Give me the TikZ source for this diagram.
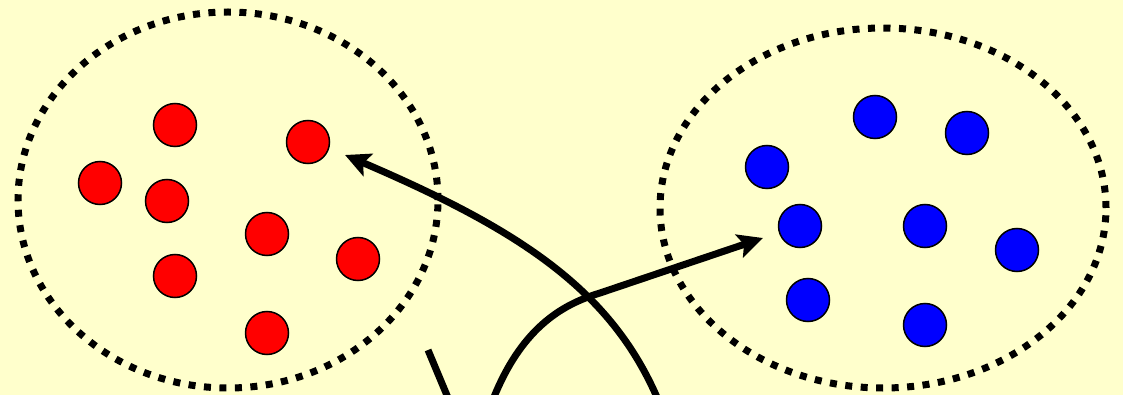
\documentclass[tikz,border=0pt]{standalone}
\usepackage{tikz}
\usetikzlibrary{arrows.meta, positioning, shapes.geometric}
\usepackage{xcolor}
\definecolor{paper}{HTML}{FFFFCC}
\definecolor{redpt}{HTML}{FF0000}
\definecolor{bluept}{HTML}{0000FF}

\begin{document}
\begin{tikzpicture}[x=1pt, y=-1pt,
    grp/.style={draw, ellipse, inner sep=0, line width=7pt, dash pattern=on 7pt off 8.5pt},
    pt/.style={draw, circle, minimum size=43pt, inner sep=0, line width=1.5pt},
    arr/.style={line width=7pt, -{Stealth[length=25pt, width=24pt, inset=5pt]}},
    >=Stealth]
\fill[paper] (0,0) rectangle (1123,395);
\useasboundingbox (0,0) rectangle (1123,395);
\clip (0,0) rectangle (1123,395);
% the two sets
\node[grp, minimum width=420pt, minimum height=376pt] (lset) at (228,200) {};
\node[grp, minimum width=446pt, minimum height=360pt] (rset) at (883,208) {};
% red points
\node[pt, fill=redpt] (r1) at (175,125) {};
\node[pt, fill=redpt] (r2) at (308,142) {};
\node[pt, fill=redpt] (r3) at (100,183) {};
\node[pt, fill=redpt] (r4) at (167,201) {};
\node[pt, fill=redpt] (r5) at (267,234) {};
\node[pt, fill=redpt] (r6) at (358,259) {};
\node[pt, fill=redpt] (r7) at (175,276) {};
\node[pt, fill=redpt] (r8) at (267,333) {};
% blue points
\node[pt, fill=bluept] (b1) at (875,117) {};
\node[pt, fill=bluept] (b2) at (967,133) {};
\node[pt, fill=bluept] (b3) at (767,167) {};
\node[pt, fill=bluept] (b4) at (800,226) {};
\node[pt, fill=bluept] (b5) at (925,226) {};
\node[pt, fill=bluept] (b6) at (1017,250) {};
\node[pt, fill=bluept] (b7) at (808,300) {};
\node[pt, fill=bluept] (b8) at (925,325) {};
% maps between the sets
\coordinate (s1) at (659,402);
\coordinate (t1) at (345,155);
\coordinate (s2) at (492,402);
\coordinate (k2) at (600,293);
\coordinate (t2) at (763,238);
\coordinate (s3) at (428,350);
\coordinate (t3) at (451,405);
\draw[arr] (s1) .. controls (612,290) and (520,230) .. (t1);
\draw[arr] (s2) .. controls (520,330) and (560,305) .. (k2) -- (t2);
\draw[line width=7pt] (s3) -- (t3);
\end{tikzpicture}
\end{document}
